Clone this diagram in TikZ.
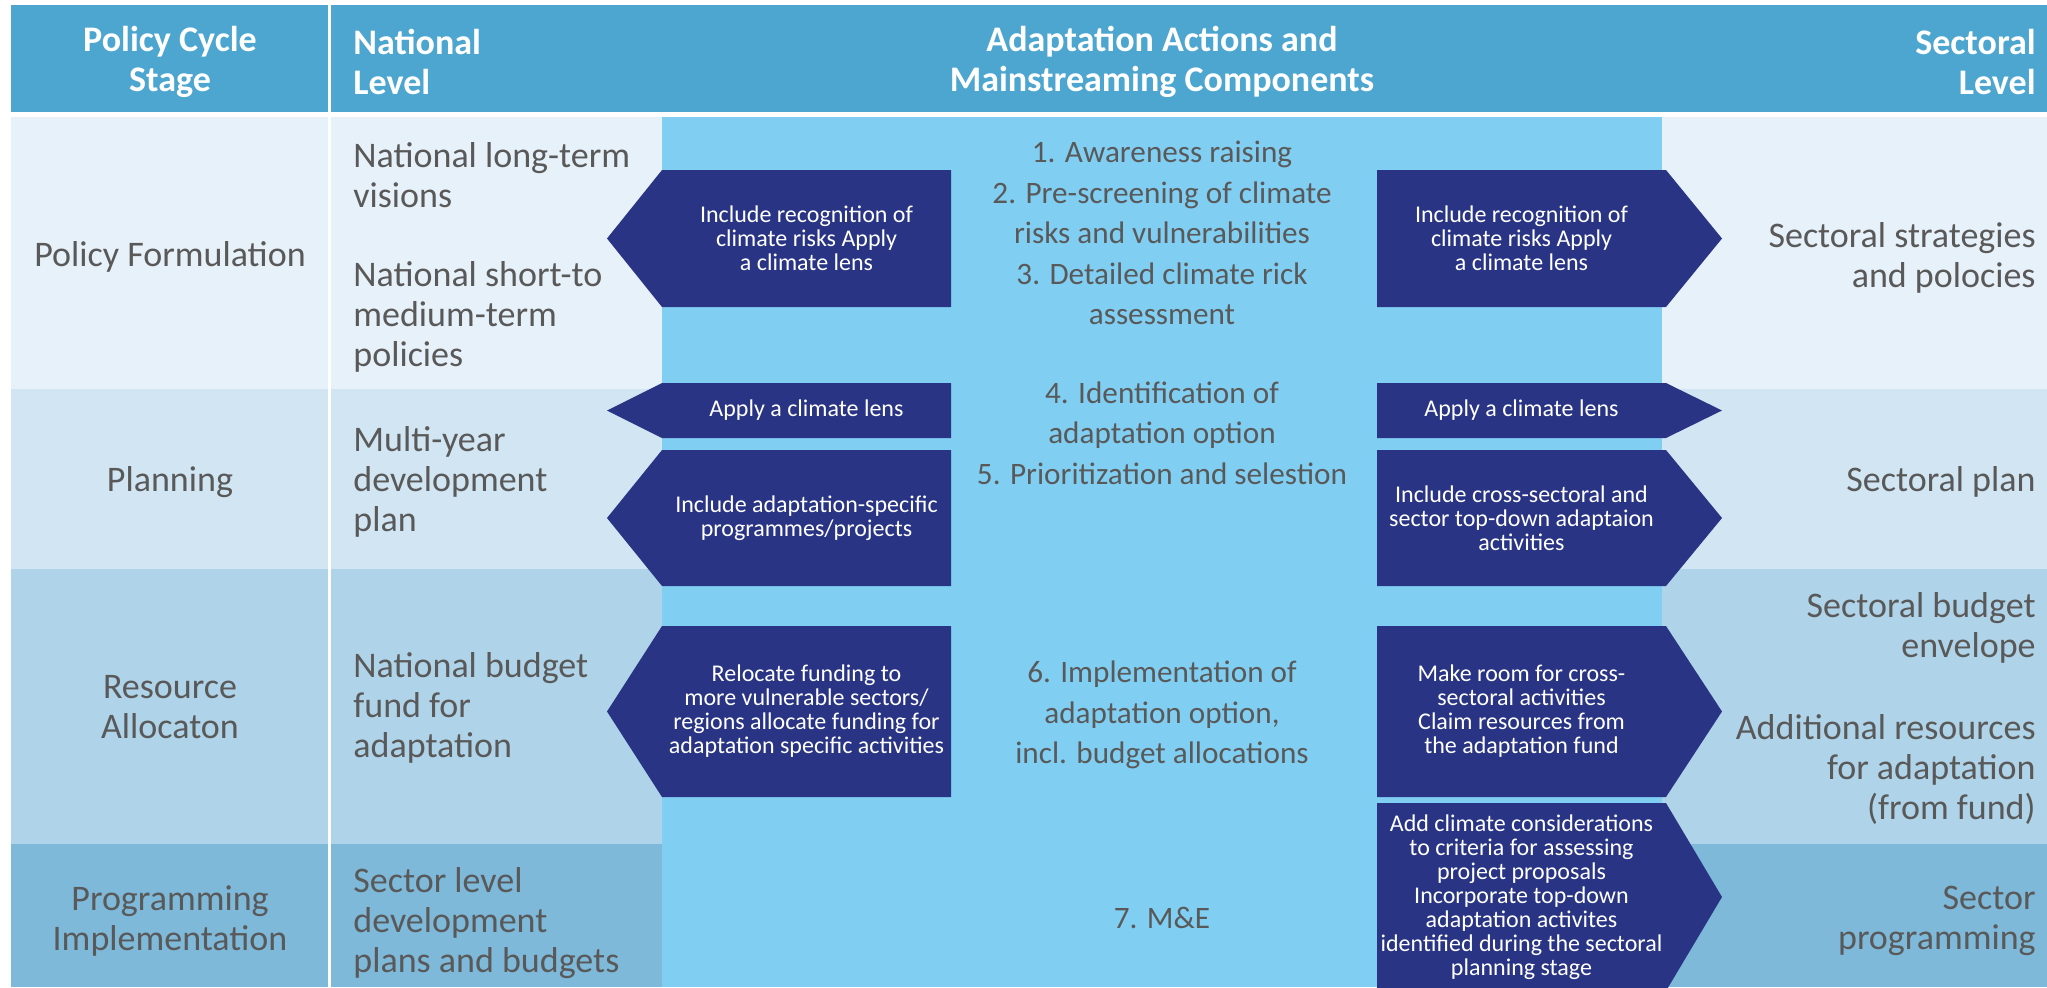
\documentclass[tikz,border=0pt]{standalone}
\usepackage{fontspec}
\setmainfont{Carlito}
\definecolor{hdrblue}{HTML}{4DA6CF}
\definecolor{rowA}{HTML}{E7F1F9}
\definecolor{rowB}{HTML}{D1E5F2}
\definecolor{rowC}{HTML}{AFD3E8}
\definecolor{rowD}{HTML}{7EB9DA}
\definecolor{skyband}{HTML}{80CFF3}
\definecolor{navy}{HTML}{293584}
\definecolor{txtgray}{HTML}{595959}

% left-pointing banner: name, top, bottom, text
\newcommand{\westbanner}[4]{%
  \fill[navy] (662,#2) -- (951,#2) -- (951,#3) -- (662,#3) -- (607,{(#2+#3)/2}) -- cycle;
  \node[bannertxt] (#1) at (806.5,{(#2+#3)/2}) {#4};
}
% right-pointing banner: name, top, bottom, text
\newcommand{\eastbanner}[4]{%
  \fill[navy] (1377,#2) -- (1666,#2) -- (1722,{(#2+#3)/2}) -- (1666,#3) -- (1377,#3) -- cycle;
  \node[bannertxt] (#1) at (1521.5,{(#2+#3)/2}) {#4};
}

\begin{document}
\begin{tikzpicture}[x=0.5pt,y=-0.5pt,
  hdr/.style={font=\fontsize{18}{20}\selectfont\bfseries, text=white, inner sep=0pt},
  body/.style={font=\fontsize{18}{20}\selectfont, text=txtgray, inner sep=0pt},
  midtxt/.style={font=\fontsize{15.6}{20.25}\selectfont, text=txtgray, inner sep=0pt, align=center},
  bannertxt/.style={font=\fontsize{12}{12}\selectfont, text=white, inner sep=0pt, align=center}
]
\clip (0,0) rectangle (2047,987);
\fill[white] (0,0) rectangle (2047,987);

% header band
\fill[hdrblue] (11,5) rectangle (2047,112);

% row bands
\fill[rowA] (11,117) rectangle (2047,389);
\fill[rowB] (11,389) rectangle (2047,569);
\fill[rowC] (11,569) rectangle (2047,844);
\fill[rowD] (11,844) rectangle (2047,987);

% central column
\fill[skyband] (662,117) rectangle (1662,987);

% white divider between stage and national columns
\fill[white] (327.5,5) rectangle (330.5,987);

% header texts
\node[hdr, align=center] (hStage) at (170,62) {Policy Cycle\\Stage};
\node[hdr, align=left, anchor=west] (hNat) at (353,62) {National\\Level};
\node[hdr, align=center] (hAct) at (1162,62) {Adaptation Actions and\\Mainstreaming Components};
\node[hdr, align=right, anchor=east] (hSec) at (2036,62) {Sectoral\\Level};

% policy cycle stages
\node[body, align=center] (s1) at (170,257) {Policy Formulation};
\node[body, align=center] (s2) at (170,482) {Planning};
\node[body, align=center] (s3) at (170,707) {Resource\\Allocaton};
\node[body, align=center] (s4) at (170,921) {Programming\\Implementation};

% national level
\node[body, align=left, anchor=west] (n1a) at (353,175) {National long-term\\visions};
\node[body, align=left, anchor=west] (n1b) at (353,317) {National short-to\\medium-term\\policies};
\node[body, align=left, anchor=west] (n2) at (353,482) {Multi-year\\development\\plan};
\node[body, align=left, anchor=west] (n3) at (353,708) {National budget\\fund for\\adaptation};
\node[body, align=left, anchor=west] (n4) at (353,923) {Sector level\\development\\plans and budgets};

% sectoral level
\node[body, align=right, anchor=east] (e1) at (2036,258) {Sectoral strategies\\and polocies};
\node[body, align=right, anchor=east] (e2) at (2036,482) {Sectoral plan};
\node[body, align=right, anchor=east] (e3a) at (2036,628) {Sectoral budget\\envelope};
\node[body, align=right, anchor=east] (e3b) at (2036,769) {Additional resources\\for adaptation\\(from fund)};
\node[body, align=right, anchor=east] (e4) at (2036,921) {Sector\\programming};

% adaptation actions
\node[midtxt] (c1) at (1162,233) {1. Awareness raising\\2. Pre-screening of climate\\risks and vulnerabilities\\3. Detailed climate rick\\assessment};
\node[midtxt] (c2) at (1162,433) {4. Identification of\\adaptation option\\5. Prioritization and selestion};
\node[midtxt] (c3) at (1162,715) {6. Implementation of\\adaptation option,\\incl. budget allocations};
\node[midtxt] (c4) at (1162,918) {7. M\&E};

% banners towards the national level
\westbanner{w1}{170}{307}{Include recognition of\\climate risks Apply\\a climate lens}
\westbanner{w2}{383}{438}{Apply a climate lens}
\westbanner{w3}{450}{586}{Include adaptation-specific\\programmes/projects}
\westbanner{w4}{626}{797}{Relocate funding to\\more vulnerable sectors/\\regions allocate funding for\\adaptation specific activities}

% banners towards the sectoral level
\eastbanner{r1}{170}{307}{Include recognition of\\climate risks Apply\\a climate lens}
\eastbanner{r2}{383}{438}{Apply a climate lens}
\eastbanner{r3}{450}{586}{Include cross-sectoral and\\sector top-down adaptaion\\activities}
\eastbanner{r4}{626}{797}{Make room for cross-\\sectoral activities\\Claim resources from\\the adaptation fund}
\eastbanner{r5}{803}{991}{Add climate considerations\\to criteria for assessing\\project proposals\\Incorporate top-down\\adaptation activites\\identified during the sectoral\\planning stage}
\end{tikzpicture}
\end{document}
